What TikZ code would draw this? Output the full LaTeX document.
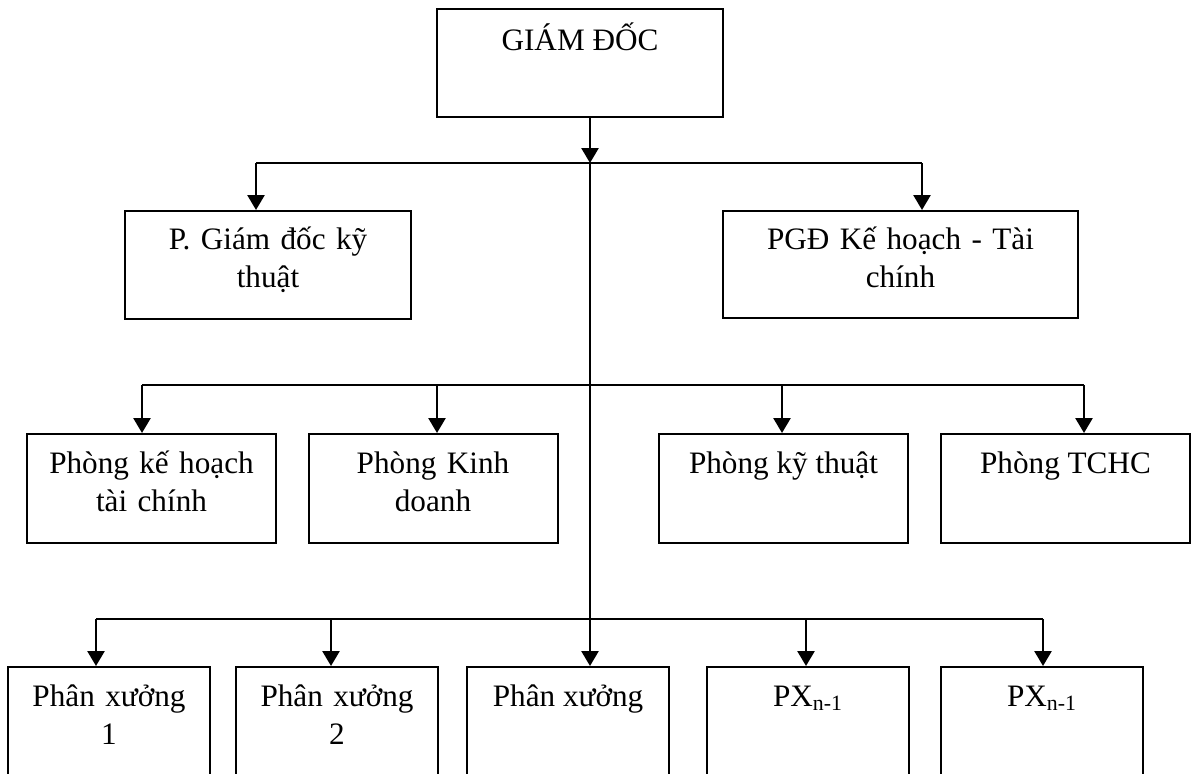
\documentclass[tikz,border=0pt]{standalone}
\usepackage{fontspec}
\setmainfont{Liberation Serif}
\usetikzlibrary{arrows.meta}
\begin{document}
\begin{tikzpicture}[x=0.5pt,y=-0.5pt,
  box/.style={draw,line width=1pt,inner sep=0pt,minimum height=54.5pt},
  wide/.style={box,minimum width=124.5pt},
  mid/.style={box,minimum width=143pt},
  narrow/.style={box,minimum width=101pt,minimum height=56pt},
  txt/.style={anchor=base,inner sep=0pt,align=center,
    font=\fontsize{15.6pt}{19pt}\selectfont},
  link/.style={line width=1.3pt},
  arr/.style={link,-{Triangle[width=8.5pt,length=7.5pt]}}]
\useasboundingbox (0,0) rectangle (1192,773);

% top level
\node[mid,minimum height=54pt] (gd) at (580,63) {};
\node[txt] at ([yshift=-21pt]gd.north) {GIÁM ĐỐC};

% deputy directors
\node[mid,minimum height=54pt] (pkt) at (268,265) {};
\node[txt,text width=143pt] at ([yshift=-19.5pt]pkt.north) {P. Giám đốc kỹ\\thuật};
\node[box,minimum width=177.5pt,minimum height=53.5pt] (pkh) at (900.5,264.5) {};
\node[txt,text width=177.5pt] at ([yshift=-19.5pt]pkh.north) {PGĐ Kế hoạch - Tài\\chính};

% departments
\node[wide] (pa) at (151.5,488.5) {};
\node[txt,text width=124.5pt] at ([yshift=-20pt]pa.north) {Phòng kế hoạch\\tài chính};
\node[wide] (pb) at (433,488.5) {};
\node[txt,text width=124.5pt] at ([yshift=-20pt]pb.north) {Phòng Kinh\\doanh};
\node[wide] (pc) at (783.5,488.5) {};
\node[txt] at ([yshift=-20pt]pc.north) {Phòng kỹ thuật};
\node[wide] (pd) at (1065.5,488.5) {};
\node[txt] at ([yshift=-20pt]pd.north) {Phòng TCHC};

% workshops
\node[narrow] (x1) at (109,723) {};
\node[txt,text width=101pt] at ([yshift=-20pt]x1.north) {Phân xưởng\\1};
\node[narrow] (x2) at (337,723) {};
\node[txt,text width=101pt] at ([yshift=-20pt]x2.north) {Phân xưởng\\2};
\node[narrow] (x3) at (568,723) {};
\node[txt] at ([yshift=-20pt]x3.north) {Phân xưởng};
\node[narrow] (x4) at (808,723) {};
\node[txt] at ([yshift=-20pt]x4.north) {PX\textsubscript{n-1}};
\node[narrow] (x5) at (1042,723) {};
\node[txt] at ([yshift=-20pt]x5.north) {PX\textsubscript{n-1}};

% bus taps
\coordinate (trunk) at (590,163);
\coordinate (s1) at (256,163);
\coordinate (s2) at (922,163);
\coordinate (m1) at (142,385);
\coordinate (m2) at (437,385);
\coordinate (m3) at (782,385);
\coordinate (m4) at (1084,385);
\coordinate (w1) at (96,619);
\coordinate (w2) at (331,619);
\coordinate (w4) at (806,619);
\coordinate (w5) at (1043,619);

% connectors
\draw[arr] (trunk |- gd.south) -- (trunk);
\draw[link] (s1) -- (s2);
\draw[arr] (s1) -- (s1 |- pkt.north);
\draw[arr] (s2) -- (s2 |- pkh.north);
\draw[arr] (trunk) -- (trunk |- x3.north);
\draw[link] (m1) -- (m4);
\draw[arr] (m1) -- (m1 |- pa.north);
\draw[arr] (m2) -- (m2 |- pb.north);
\draw[arr] (m3) -- (m3 |- pc.north);
\draw[arr] (m4) -- (m4 |- pd.north);
\draw[link] (w1) -- (w5);
\draw[arr] (w1) -- (w1 |- x1.north);
\draw[arr] (w2) -- (w2 |- x2.north);
\draw[arr] (w4) -- (w4 |- x4.north);
\draw[arr] (w5) -- (w5 |- x5.north);
\end{tikzpicture}
\end{document}
